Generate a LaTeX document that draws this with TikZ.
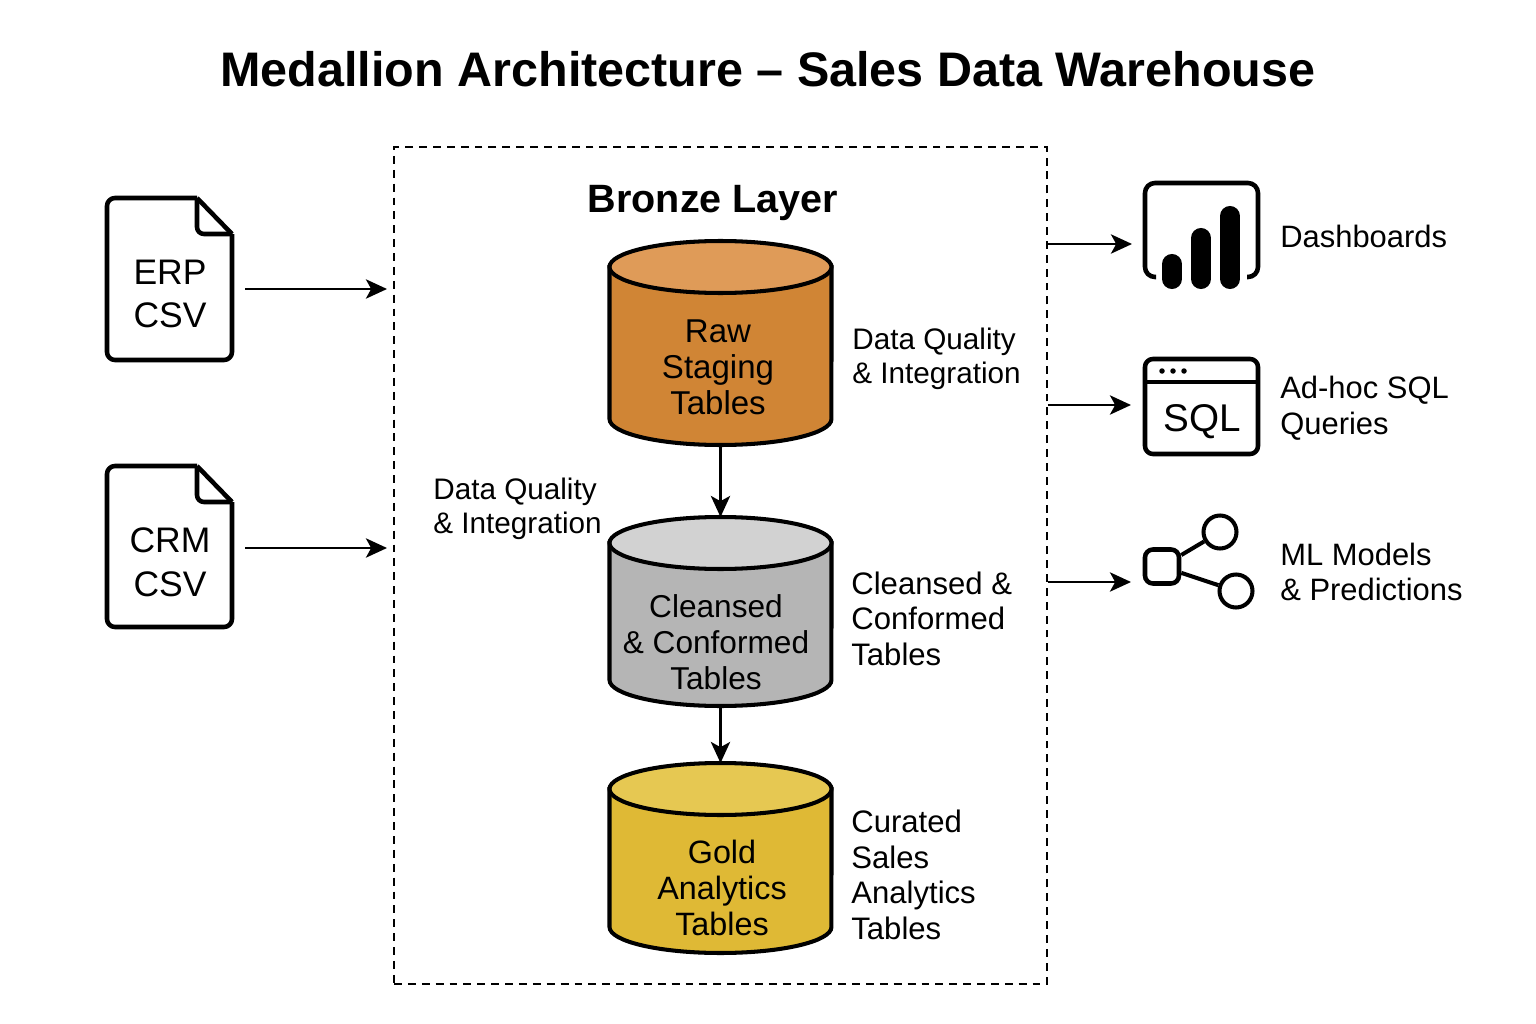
\documentclass[tikz,border=0pt]{standalone}
\usepackage{fontspec}
\setmainfont{Liberation Sans}
\usetikzlibrary{arrows.meta}
\tikzset{
 flow/.style={line width=1.3pt,-{Stealth[length=12pt,width=11pt,inset=3pt]}},
 icon/.style={line width=2.6pt,line join=round},
 tankline/.style={draw=black,line width=2.3pt},
 tanktext/.style={align=center,inner sep=0pt,font=\fontsize{#1}{20.6}\selectfont},
 side/.style={anchor=west,align=left,inner sep=0pt,font=\fontsize{16.9}{19.6}\selectfont},
 bigside/.style={anchor=west,align=left,inner sep=0pt,font=\fontsize{17.7}{20.2}\selectfont},
 use/.style={anchor=west,align=left,inner sep=0pt,font=\fontsize{17.6}{20.3}\selectfont},
 doctext/.style={align=center,font=\fontsize{20.2}{25}\selectfont},
}
\definecolor{rawbody}{RGB}{208,133,53}
\definecolor{rawend}{RGB}{223,155,88}
\definecolor{silverbody}{RGB}{181,181,181}
\definecolor{silverend}{RGB}{210,210,210}
\definecolor{goldbody}{RGB}{223,185,53}
\definecolor{goldend}{RGB}{230,200,82}
\newcommand{\datatank}[5]{
 \node[minimum width=4.44cm,minimum height={(#3-#2)*0.02cm},inner sep=0pt,outer sep=0pt] (#1) at (720.5,{(#2+#3)/2}) {};
 \filldraw[tankline,fill=#4] (609.5,{#2+26}) -- (609.5,{#3-26}) arc[start angle=180,end angle=360,x radius=2.22cm,y radius=0.52cm] -- (831.5,{#2+26}) -- cycle;
 \filldraw[tankline,fill=#5] (720.5,{#2+26}) ellipse [x radius=2.22cm,y radius=0.52cm];
}
\begin{document}
\begin{tikzpicture}[x=0.02cm,y=-0.02cm]
\useasboundingbox (0,0) rectangle (1536,1024);

\node[font=\fontsize{27.6}{30}\selectfont\bfseries] (title) at (768,69) {Medallion Architecture – Sales Data Warehouse};

\node[draw,dashed,line width=1.1pt,dash pattern=on 4.5pt off 3.4pt,minimum width=13.06cm,minimum height=16.74cm,inner sep=0pt] (bronzebox) at (720.5,565.5) {};
\node[font=\fontsize{22.5}{25}\selectfont\bfseries] (bronzetitle) at (713,203) {Bronze Layer};

\datatank{rawtank}{241}{445}{rawbody}{rawend}
\datatank{silvertank}{517}{706}{silverbody}{silverend}
\datatank{goldtank}{763}{953}{goldbody}{goldend}
\node[tanktext=18.8] (rawtext) at (718,367) {Raw\\Staging\\Tables};
\node[tanktext=18] (silvertext) at (716,642) {Cleansed\\\& Conformed\\Tables};
\node[tanktext=18.4] (goldtext) at (722,888) {Gold\\Analytics\\Tables};

\draw[flow] (rawtank.south) -- (silvertank.north);
\draw[flow] (silvertank.south) -- (goldtank.north);

\node[side] (rawnote) at (852,359) {Data Quality\\\& Integration};
\node[side] (leftnote) at (433,509) {Data Quality\\\& Integration};
\node[bigside] (silvernote) at (851,618.5) {Cleansed \&\\Conformed\\Tables};
\node[bigside] (goldnote) at (851,875) {Curated\\Sales\\Analytics\\Tables};

\draw[icon,rounded corners=0.16cm] (197,198)--(107,198)--(107,360)--(232,360)--(232,234);
\draw[icon] (197,198)--(232,234);
\draw[icon,rounded corners=0.14cm] (197,198)--(197,234)--(232,234);
\node[doctext] (erpfile) at (170,294) {ERP\\CSV};

\draw[icon,rounded corners=0.16cm] (197,466)--(107,466)--(107,627)--(232,627)--(232,502);
\draw[icon] (197,466)--(232,502);
\draw[icon,rounded corners=0.14cm] (197,466)--(197,502)--(232,502);
\node[doctext] (crmfile) at (170,562) {CRM\\CSV};

\coordinate (erpout) at (245,289);
\coordinate (erpin) at (387,289);
\coordinate (crmout) at (245,548);
\coordinate (crmin) at (387,548);
\draw[flow] (erpout) -- (erpin);
\draw[flow] (crmout) -- (crmin);

\coordinate (dashin) at (1132,244);
\coordinate (sqlin) at (1131,405);
\coordinate (mlin) at (1131,582);
\draw[flow] (bronzebox.east |- dashin) -- (dashin);
\draw[flow] (bronzebox.east |- sqlin) -- (sqlin);
\draw[flow] (bronzebox.east |- mlin) -- (mlin);

\draw[icon,rounded corners=0.2cm] (1156,277)--(1145,277)--(1145,183)--(1258,183)--(1258,277)--(1247,277);
\draw[line width=11.4pt,line cap=round] (1172,264)--(1172,279);
\draw[line width=11.4pt,line cap=round] (1201,238)--(1201,279);
\draw[line width=11.4pt,line cap=round] (1230,216)--(1230,279);
\node[use] (dashlabel) at (1280,236) {Dashboards};

\draw[icon,rounded corners=0.16cm] (1145,359) rectangle (1258,454);
\draw[icon] (1145,382)--(1258,382);
\foreach \dotx in {1162,1173,1184}
 \fill (\dotx,371) circle (0.055cm);
\node[font=\fontsize{22}{24}\selectfont] (sqltext) at (1202,422) {SQL};
\node[use] (sqllabel) at (1280,408) {Ad-hoc SQL\\Queries};

\node[draw,line width=2.6pt,rounded corners=0.16cm,minimum size=0.68cm,inner sep=0pt] (mlhub) at (1162,566.5) {};
\node[draw,circle,line width=2.3pt,minimum size=0.66cm,inner sep=0pt] (mltop) at (1220,532) {};
\node[draw,circle,line width=2.3pt,minimum size=0.66cm,inner sep=0pt] (mlbottom) at (1236,591) {};
\draw[line width=2.3pt] (mlhub) -- (mltop);
\draw[line width=2.3pt] (mlhub) -- (mlbottom);
\node[use] (mllabel) at (1280,572) {ML Models\\\& Predictions};
\end{tikzpicture}
\end{document}
